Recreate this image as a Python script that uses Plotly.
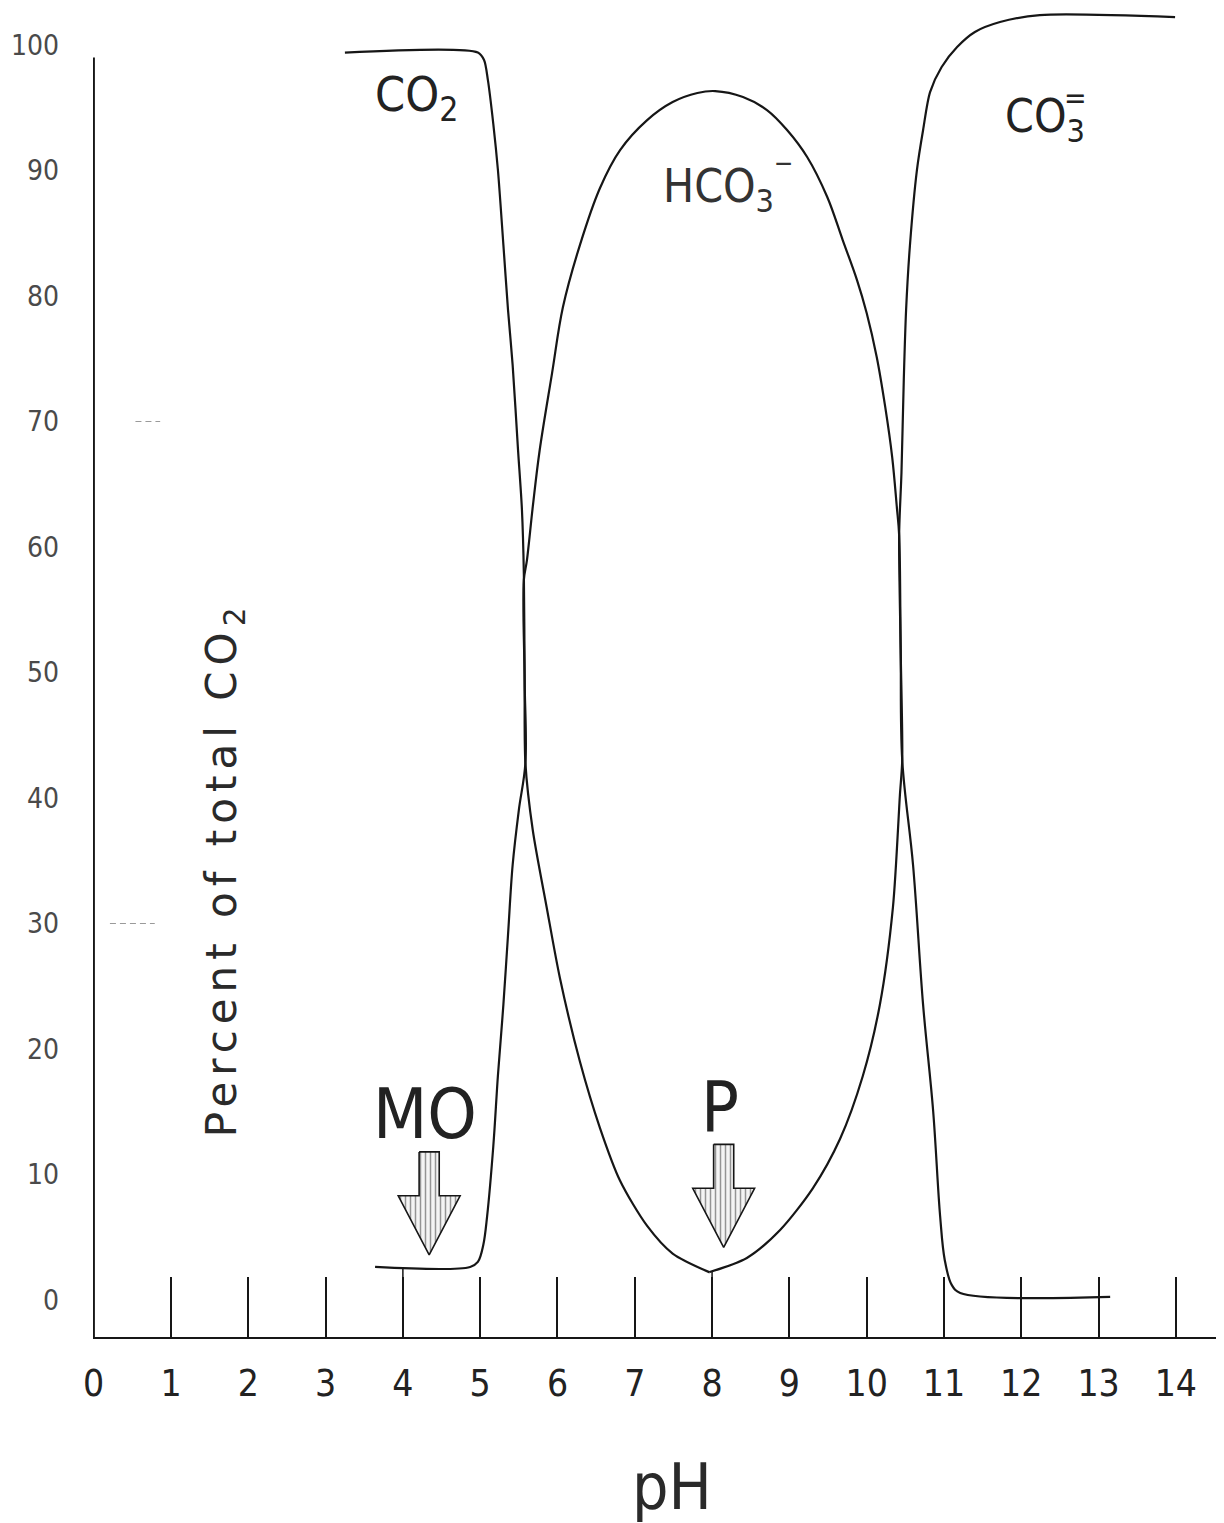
import numpy as np
import plotly.graph_objects as go

# ---------------- data ----------------
co2_ph = [3.25, 4.97, 5.05, 5.10, 5.17, 5.23, 5.30, 5.36, 5.42, 5.49, 5.54,
          5.565, 5.575, 5.585, 5.68, 5.86, 6.03, 6.29, 6.55, 6.81, 7.16, 7.49, 7.97]
co2_pct = [99.4, 99.4, 98.8, 97.2, 93.7, 90.0, 84.1, 78.9, 74.5, 67.7, 63.0,
           57.8, 49.4, 42.8, 37.45, 31.3, 25.7, 19.0, 13.7, 9.5, 5.9, 3.7, 2.2]

hco3_ph = [3.64, 4.87, 4.97, 5.04, 5.09, 5.17, 5.23, 5.30, 5.36, 5.42, 5.50,
           5.585, 5.575, 5.565, 5.605, 5.68, 5.77, 5.93, 6.07, 6.29, 6.55,
           6.81, 7.16, 7.49, 7.81, 8.04, 8.40, 8.71, 8.97, 9.23, 9.49, 9.69,
           9.875, 10.00, 10.13, 10.24, 10.33, 10.39, 10.42, 10.44, 10.46,
           10.60, 10.73, 10.86, 10.95, 11.01, 11.10, 11.21, 13.15]
hco3_pct = [2.63, 2.63, 3.03, 4.38, 6.69, 12.27, 17.93, 23.51, 29.08, 34.66, 39.04,
            42.79, 49.4, 57.37, 58.96, 63.19, 67.73, 73.86, 79.1, 84.06, 88.61,
            91.63, 94.02, 95.46, 96.18, 96.33, 95.86, 94.82, 93.23, 91.08, 87.89, 84.46,
            81.27, 78.65, 75.14, 71.16, 67.17, 63.19, 60.96, 51.79, 43.03,
            34.66, 23.51, 15.06, 6.69, 3.19, 1.20, 0.56, 0.24]

co3_ph = [7.97, 8.45, 8.88, 9.305, 9.655, 9.95, 10.17, 10.34, 10.43, 10.46,
          10.44, 10.42, 10.45, 10.48, 10.51, 10.56, 10.65, 10.73, 10.82, 10.97,
          11.17, 11.40, 11.725, 12.24, 13.99]
co3_pct = [2.23, 3.35, 5.58, 8.92, 12.83, 17.85, 23.51, 31.31, 40.24, 43.03,
           51.79, 60.96, 65.9, 73.31, 78.88, 84.06, 90.04, 93.23, 96.25, 98.25,
           99.84, 101.04, 101.83, 102.39, 102.23]

ph_ticks = list(range(0, 15))
ph_tick_labels = [str(v) for v in ph_ticks]
pct_ticks = list(range(0, 101, 10))
pct_tick_labels = [str(v) for v in pct_ticks]

indicator_names = ["MO", "P"]
indicator_ph = [4.34, 8.15]
indicator_tip_pct = [3.6, 4.2]

# faint hand-drawn dashes near the y axis (level, start pH, end pH)
dash_levels = [70, 30]
dash_start = [0.54, 0.21]
dash_end = [0.86, 0.79]

# ---------------- styling ----------------
NARROW = "DejaVu Sans Condensed, DejaVu Sans, sans-serif"
INK = "#161616"
X_RANGE = [-0.009, 14.571]
Y_RANGE = [-2.95, 102.95]

fig = go.Figure()

for xs, ys, sm in [(co2_ph, co2_pct, 0.8), (hco3_ph, hco3_pct, 1.0), (co3_ph, co3_pct, 0.8)]:
    fig.add_trace(go.Scatter(
        x=xs, y=ys, mode="lines",
        line=dict(color=INK, width=2.2, shape="spline", smoothing=sm),
        hoverinfo="skip", showlegend=False))

# faint dashes
dx, dy = [], []
for lv, a, b in zip(dash_levels, dash_start, dash_end):
    dx += [a, b, None]
    dy += [lv, lv, None]
fig.add_trace(go.Scatter(x=dx, y=dy, mode="lines",
                         line=dict(color="#9a9a9a", width=1.2, dash="6px,4px"),
                         hoverinfo="skip", showlegend=False))

# indicator arrows (block arrows with hatched interior)
for name, xc, tip in zip(indicator_names, indicator_ph, indicator_tip_pct):
    sw, hw = 0.13, 0.40
    top, base = tip + 8.2, tip + 4.7
    ax = [xc - sw, xc + sw, xc + sw, xc + hw, xc, xc - hw, xc - sw, xc - sw]
    ay = [top, top, base, base, tip, base, base, top]
    fig.add_trace(go.Scatter(
        x=ax, y=ay, mode="lines", fill="toself",
        line=dict(color=INK, width=1.6),
        fillcolor="#e6e6e6",
        fillpattern=dict(shape="|", fgcolor="#333333", bgcolor="#f4f4f4",
                         size=5, solidity=0.3),
        hoverinfo="skip", showlegend=False))
    fig.add_annotation(x=xc - 0.05, y=tip + 11.2, text=name, showarrow=False,
                       font=dict(family=NARROW, size=70, color="#222"),
                       xanchor="center", yanchor="middle")

# extended ticks up to the MO plateau and to the P minimum
fig.add_shape(type="line", x0=4, x1=4, y0=Y_RANGE[0],
              y1=float(np.interp(4, hco3_ph[:3], hco3_pct[:3])),
              line=dict(color=INK, width=1.5), layer="below")
fig.add_shape(type="line", x0=8, x1=8, y0=Y_RANGE[0],
              y1=float(np.interp(8, co3_ph[:3], co3_pct[:3])),
              line=dict(color=INK, width=1.5), layer="below")

# y axis line (drawn up to ~100 %)
fig.add_shape(type="line", x0=0, x1=0, y0=Y_RANGE[0], y1=99.0,
              line=dict(color=INK, width=2.4))

# species labels
fig.add_annotation(x=4.18, y=95.8, text="CO<sub>2</sub>", showarrow=False,
                   font=dict(family=NARROW, size=48, color="#222"))
fig.add_annotation(x=7.34, y=88.5, text="HCO<sub>3</sub>", showarrow=False,
                   xanchor="left", font=dict(family=NARROW, size=46, color="#333"))
fig.add_annotation(x=8.93, y=90.7, text="\u2012", showarrow=False,
                   font=dict(family=NARROW, size=30, color="#333"))
fig.add_annotation(x=11.76, y=94.05, text="CO<sub>3</sub>", showarrow=False,
                   xanchor="left", font=dict(family=NARROW, size=46, color="#222"))
fig.add_annotation(x=12.70, y=95.8, text="=", showarrow=False,
                   font=dict(family=NARROW, size=30, color="#222"))

# axis titles
fig.add_annotation(x=1.69, y=34.1,
                   text='<span style="letter-spacing:6px">Percent of total CO</span><sub>2</sub>',
                   textangle=-90, showarrow=False,
                   font=dict(family="DejaVu Sans", size=42, color="#2a2a2a"))
fig.add_annotation(x=7.48, xref="x", y=-0.113, yref="paper", text="pH", showarrow=False,
                   xanchor="center", yanchor="middle",
                   font=dict(family=NARROW, size=64, color="#2a2a2a"))

fig.update_layout(
    width=1216, height=1515,
    margin=dict(l=85, r=4, t=0, b=186),
    paper_bgcolor="white", plot_bgcolor="white",
    showlegend=False,
    xaxis=dict(range=X_RANGE, tickmode="array", tickvals=ph_ticks, ticktext=ph_tick_labels,
               showgrid=False, zeroline=False, showline=True, linecolor=INK, linewidth=2.4,
               ticks="inside", ticklen=60, tickwidth=1.5, tickcolor=INK,
               ticklabelstandoff=12, automargin=False,
               tickfont=dict(family=NARROW, size=37, color="#222"), fixedrange=True),
    yaxis=dict(range=Y_RANGE, tickmode="array", tickvals=pct_ticks, ticktext=pct_tick_labels,
               showgrid=False, zeroline=False, showline=False, ticks="",
               ticklabelstandoff=33, automargin=False,
               tickfont=dict(family=NARROW, size=28, color="#4a4a4a"), fixedrange=True),
)

fig.write_html("out.html")
